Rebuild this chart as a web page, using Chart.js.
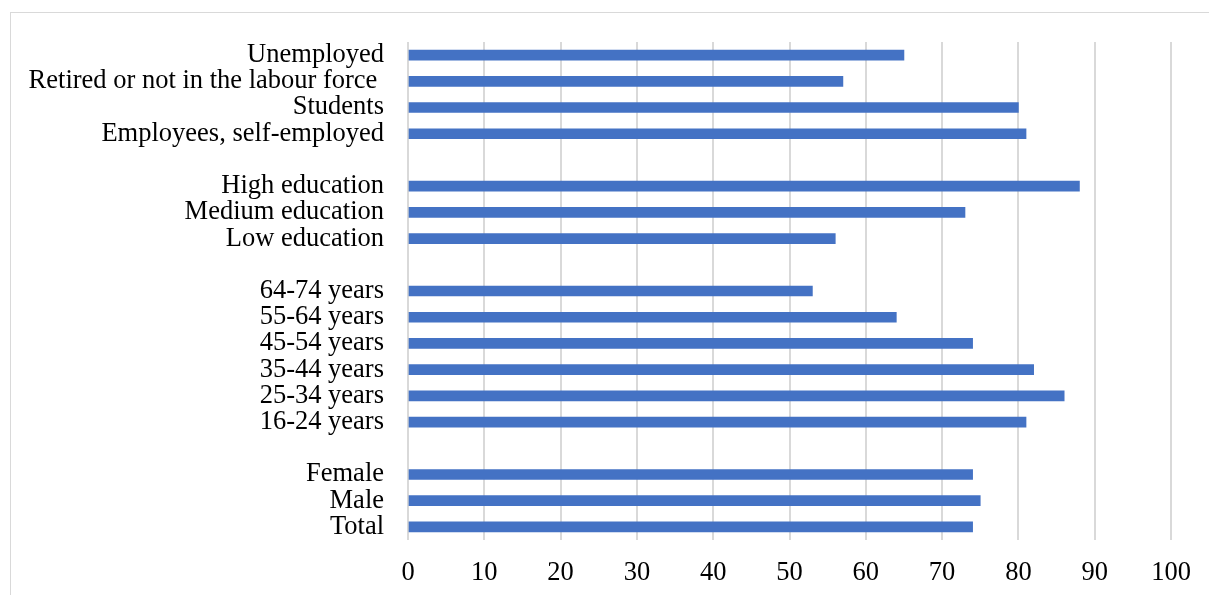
<!DOCTYPE html>
<html lang="en">
<head>
<meta charset="utf-8">
<script src="https://cdn.jsdelivr.net/npm/chart.js"></script>
<style>
  html, body { margin: 0; padding: 0; background: #fff; overflow: hidden; }
  #frame { position: absolute; left: 10px; top: 12px; width: 1230px; height: 620px; border: 1px solid #d9d9d9; }
  #wrap { position: absolute; left: 0; top: 0; width: 1209px; height: 595px; }
</style>
</head>
<body>
<div id="frame"></div>
<div id="wrap"><canvas id="chartCanvas"></canvas></div>

<script>
  // categories top to bottom, '' = spacer rows between groups
  const categories = [
    'Unemployed', 'Retired or not in the labour force ', 'Students', 'Employees, self-employed',
    '',
    'High education', 'Medium education', 'Low education',
    '',
    '64-74 years', '55-64 years', '45-54 years', '35-44 years', '25-34 years', '16-24 years',
    '',
    'Female', 'Male', 'Total'
  ];
  const values = [
    65, 57, 80, 81,
    null,
    88, 73, 56,
    null,
    53, 64, 74, 82, 86, 81,
    null,
    74, 75, 74
  ];
  const xTicks = [0, 10, 20, 30, 40, 50, 60, 70, 80, 90, 100];

  const serif = "'Liberation Serif', 'Times New Roman', serif";

  const ctx = document.getElementById('chartCanvas').getContext('2d');
  const chart = new Chart(ctx, {
    type: 'bar',
    data: {
      labels: categories,
      datasets: [{
        label: 'Share',
        data: values,
        backgroundColor: '#4472C4',
        borderWidth: 0,
        barThickness: 10
      }]
    },
    options: {
      indexAxis: 'y',
      responsive: true,
      maintainAspectRatio: false,
      animation: false,
      layout: { padding: { top: 42, right: 38, left: 0, bottom: 0 } },
      plugins: {
        legend: { display: false },
        tooltip: { enabled: false }
      },
      scales: {
        x: {
          min: 0,
          max: 100,
          afterBuildTicks: scale => { scale.ticks = xTicks.map(v => ({ value: v })); },
          afterFit: scale => { scale.height = 55; },
          grid: { color: '#d9d9d9', lineWidth: 2, drawTicks: false },
          border: { display: false },
          ticks: { color: '#000', padding: 17, font: { family: serif, size: 26.5 } }
        },
        y: {
          afterFit: scale => { scale.width = 408; },
          grid: { display: false, drawTicks: false },
          border: { display: false },
          ticks: { color: '#000', padding: 24, autoSkip: false, font: { family: serif, size: 26.5 } }
        }
      }
    }
  });
</script>
</body>
</html>
